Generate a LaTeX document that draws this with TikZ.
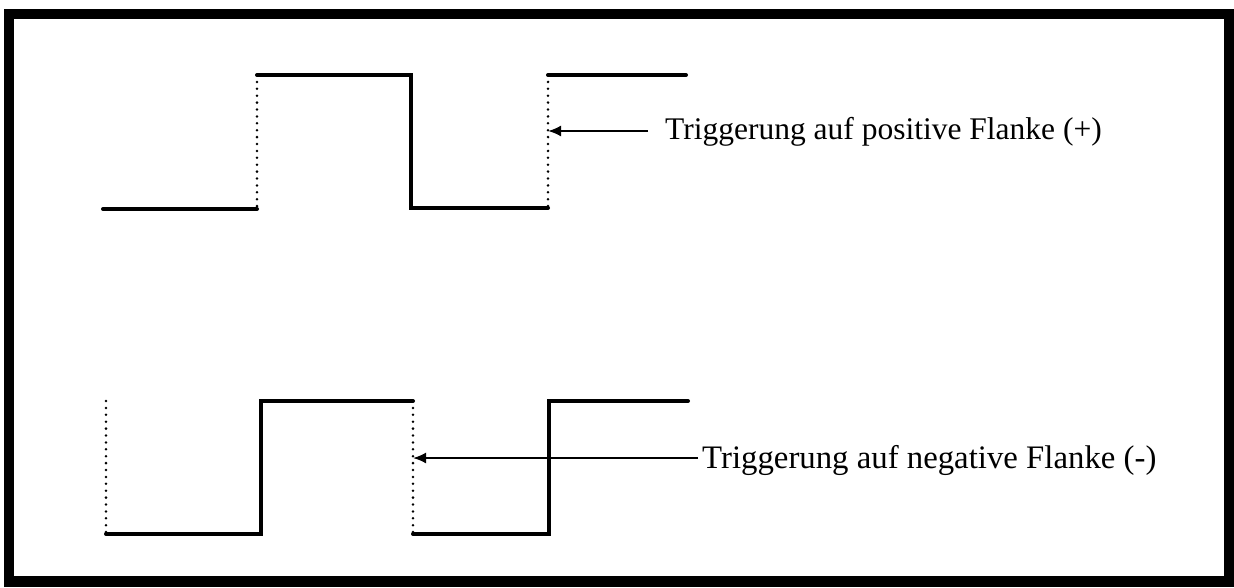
\documentclass[tikz,border=0pt]{standalone}
\usepackage{fontspec}
\setmainfont{Liberation Serif}
\usetikzlibrary{arrows.meta}
\begin{document}
\begin{tikzpicture}[x=1pt,y=-1pt,
  frame/.style={line width=10.5pt},
  signal/.style={line width=4pt,line cap=round,line join=miter},
  edgemark/.style={line width=2.8pt,line cap=round,dash pattern=on 0pt off 6.9pt},
  pointer/.style={line width=2pt,-{Latex[length=13pt,width=11pt]}},
  label/.style={anchor=base west,inner sep=0pt}]
\useasboundingbox (0,0) rectangle (1234,587);
\draw[frame] (9,14) rectangle (1229.5,581.5);

% rising-edge triggered signal
\coordinate (a0) at (103,209);
\coordinate (a1) at (257,209);
\coordinate (a2) at (257,75);
\coordinate (a3) at (411,75);
\coordinate (a4) at (411,208);
\coordinate (a5) at (548,208);
\coordinate (a6) at (548,75);
\coordinate (a7) at (686,75);
\draw[signal] (a0) -- (a1);
\draw[signal] (a2) -- (a3) -- (a4) -- (a5);
\draw[signal] (a6) -- (a7);
\draw[edgemark] (a2) -- (a1);
\draw[edgemark] (a6) -- (a5);
\coordinate (ta) at (548,131);
\node[label,font=\fontsize{31.5}{36}\selectfont] (pos) at (665,139) {Triggerung auf positive Flanke (+)};
\draw[pointer] (648,131) -- (ta);

% falling-edge triggered signal
\coordinate (b0) at (106,401);
\coordinate (b1) at (106,534);
\coordinate (b2) at (261,534);
\coordinate (b3) at (261,401);
\coordinate (b4) at (413,401);
\coordinate (b5) at (413,534);
\coordinate (b6) at (549,534);
\coordinate (b7) at (549,401);
\coordinate (b8) at (688,401);
\draw[signal] (b1) -- (b2) -- (b3) -- (b4);
\draw[signal] (b5) -- (b6) -- (b7) -- (b8);
\draw[edgemark] (b0) -- (b1);
\draw[edgemark] (b4) -- (b5);
\coordinate (tb) at (413,458);
\node[label,font=\fontsize{32.8}{38}\selectfont] (neg) at (702,468) {Triggerung auf negative Flanke (-)};
\draw[pointer] ([xshift=-4pt]neg.west |- tb) -- (tb);
\end{tikzpicture}
\end{document}
